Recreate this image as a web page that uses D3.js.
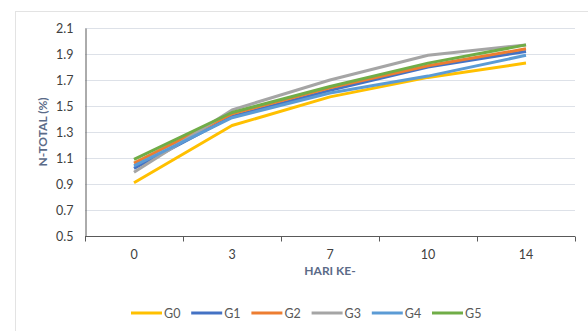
<!DOCTYPE html>
<html>
<head>
<meta charset="utf-8">
<script src="https://cdn.jsdelivr.net/npm/d3@7"></script>
<style>
  html, body { margin: 0; padding: 0; background: #fff; }
  svg { display: block; }
</style>
</head>
<body>
<div id="chart"></div>
<script>
// Days of observation (category axis)
const days = ["0", "3", "7", "10", "14"];

// Total nitrogen (%) per treatment group
const G0 = [0.91, 1.35, 1.57, 1.72, 1.83];
const G1 = [1.02, 1.42, 1.62, 1.80, 1.92];
const G2 = [1.06, 1.44, 1.64, 1.81, 1.94];
const G3 = [0.99, 1.47, 1.70, 1.89, 1.97];
const G4 = [1.04, 1.41, 1.60, 1.73, 1.89];
const G5 = [1.09, 1.45, 1.65, 1.83, 1.97];

const seriesNames = ["G0", "G1", "G2", "G3", "G4", "G5"];
const seriesValues = [G0, G1, G2, G3, G4, G5];
const colors = ["#FFC000", "#4472C4", "#ED7D31", "#A5A5A5", "#5B9BD5", "#70AD47"];

const yTicks = [0.5, 0.7, 0.9, 1.1, 1.3, 1.5, 1.7, 1.9, 2.1];

const W = 588, H = 331;
const plot = { left: 85, right: 575, top: 28, bottom: 236 };

const svg = d3.select("#chart").append("svg")
  .attr("width", W).attr("height", H);

// chart frame
svg.append("rect")
  .attr("x", 15.5).attr("y", 11.5)
  .attr("width", W - 14).attr("height", H)
  .attr("fill", "#fff").attr("stroke", "#e3e3e3");

const x = d3.scaleBand().domain(days).range([plot.left, plot.right]);
const y = d3.scaleLinear().domain([0.5, 2.1]).range([plot.bottom, plot.top]);

// horizontal gridlines
svg.append("g").selectAll("line")
  .data(yTicks.filter(t => t > 0.5))
  .join("line")
  .attr("x1", plot.left).attr("x2", plot.right)
  .attr("y1", d => Math.round(y(d)) + 0.5).attr("y2", d => Math.round(y(d)) + 0.5)
  .attr("stroke", "#dde1e8").attr("stroke-width", 1);

const tickFont = "Lato, 'Open Sans', 'Liberation Sans', sans-serif";

// y axis
const yAxis = d3.axisLeft(y).tickValues(yTicks).tickFormat(d3.format(".1f")).tickSize(0).tickPadding(12);
const gy = svg.append("g").attr("transform", `translate(${plot.left + 0.5},0)`).call(yAxis);
gy.select(".domain").attr("stroke", "#595959");
gy.selectAll("text").attr("fill", "#404040").attr("font-size", 12.5).attr("font-family", tickFont);

// x axis with tick marks between categories
const gx = svg.append("g").attr("transform", `translate(0,${plot.bottom + 0.5})`);
gx.append("line").attr("x1", plot.left).attr("x2", plot.right)
  .attr("stroke", "#595959");
const bounds = days.map(d => x(d)).concat([x(days[days.length - 1]) + x.bandwidth()]);
gx.selectAll(".tk").data(bounds).join("line").attr("class", "tk")
  .attr("x1", d => Math.round(d) + 0.5).attr("x2", d => Math.round(d) + 0.5)
  .attr("y1", 0).attr("y2", 5).attr("stroke", "#595959");
gx.selectAll("text").data(days).join("text")
  .attr("x", d => x(d) + x.bandwidth() / 2).attr("y", 22)
  .attr("text-anchor", "middle")
  .attr("fill", "#404040").attr("font-size", 12.5).attr("font-family", tickFont)
  .text(d => d);

// axis titles
svg.append("text")
  .attr("transform", `translate(47,${(plot.top + plot.bottom) / 2}) rotate(-90)`)
  .attr("text-anchor", "middle")
  .attr("fill", "#5b6b88").attr("font-weight", "bold").attr("font-size", 12)
  .attr("font-family", tickFont)
  .text("N-TOTAL (%)");

svg.append("text")
  .attr("x", (plot.left + plot.right) / 2).attr("y", 275)
  .attr("text-anchor", "middle")
  .attr("fill", "#5b6b88").attr("font-weight", "bold").attr("font-size", 12)
  .attr("font-family", tickFont)
  .text("HARI KE-");

// series lines
const line = d3.line()
  .x((d, i) => x(days[i]) + x.bandwidth() / 2)
  .y(d => y(d));

svg.append("g").selectAll("path")
  .data(seriesValues)
  .join("path")
  .attr("d", d => line(d))
  .attr("fill", "none")
  .attr("stroke", (d, i) => colors[i])
  .attr("stroke-width", 3)
  .attr("stroke-linejoin", "round");

// legend
const legend = svg.append("g").attr("transform", "translate(131,313)");
const item = legend.selectAll("g").data(seriesNames).join("g")
  .attr("transform", (d, i) => `translate(${i * 60.2},0)`);
item.append("line").attr("x1", 0).attr("x2", 31).attr("y1", 0).attr("y2", 0)
  .attr("stroke", (d, i) => colors[i]).attr("stroke-width", 3);
item.append("text").attr("x", 33).attr("y", 4.5)
  .attr("fill", "#595959").attr("font-size", 12.5).attr("font-family", tickFont)
  .text(d => d);
</script>
</body>
</html>
